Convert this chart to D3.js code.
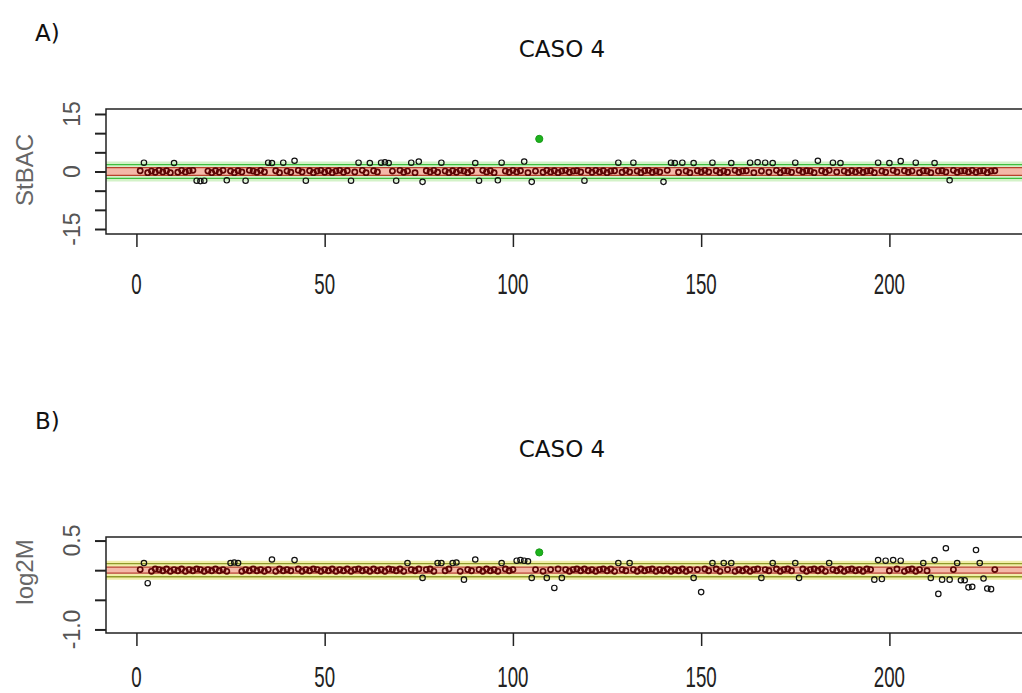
<!DOCTYPE html>
<html><head><meta charset="utf-8">
<script src="https://cdn.jsdelivr.net/npm/d3@7"></script>
<style>body{margin:0;background:#fff}svg{display:block}</style>
</head><body>
<svg id="c" width="1022" height="693"></svg>
<script>
// ---- data ----
const panelTitles = ["CASO 4", "CASO 4"];
const panelLetters = ["A)", "B)"];
const yLabels = ["StBAC", "log2M"];
const xTicks = [0, 50, 100, 150, 200];
const yTicksA = [-15, -10, -5, 0, 5, 10, 15];
const yTickLabelsA = {"-15": "-15", "0": "0", "15": "15"};
const yTicksB = [-1.0, -0.5, 0, 0.5];
const yTickLabelsB = {"-1": "-1.0", "0.5": "0.5"};
const highlightIndex = 107;
// thresholds: inner (pink band) and outer (green lines)
const thrA = {inner: 1, outer: 1.8};
const thrB = {inner: 0.05, outer: 0.11};

const valuesA = [
 0.2, 2.3,-0.3, 0.1,-0.2, 0.3,-0.1, 0.2,-0.3, 2.2,
-0.2, 0.3,-0.1, 0.2, 0.3,-2.4,-2.5,-2.4, 0.1,-0.3,
 0.2,-0.2, 0.3,-2.3, 0.1,-0.3, 0.2,-0.1,-2.4, 0.3,
 0.1,-0.2, 0.3,-0.1, 2.3, 2.2, 0.2,-0.3, 2.3, 0.1,
-0.2, 2.8, 0.3,-0.1,-2.4, 0.2,-0.3, 0.1, 0.3,-0.2,
 0.2,-0.3, 0.1, 0.3,-0.2, 0.2,-2.4,-0.1, 2.3, 0.3,
-0.3, 2.2, 0.2,-0.1, 2.3, 2.4, 2.2, 0.1,-2.4, 0.3,
-0.2, 0.1, 2.3,-0.3, 2.6,-2.7, 0.2,-0.1, 0.3,-0.2,
 2.3, 0.1,-0.3, 0.2,-0.2, 0.3, 0.1,-0.3, 0.2, 2.2,
-2.4, 0.3,-0.1, 0.2,-0.3,-2.3, 2.3, 0.1,-0.2, 0.3,
-0.1, 0.2, 2.6,-0.3,-2.7, 0.1, 8.5,-0.2, 0.3,-0.1,
 0.2,-0.3, 0.1, 0.3,-0.2, 0.1, 0.2,-0.1,-2.4, 0.3,
-0.2, 0.3,-0.1, 0.2,-0.3, 0.1, 0.2, 2.3,-0.2, 0.3,
-0.1, 2.3, 0.1,-0.3, 0.2, 0.3,-0.2, 0.1,-0.1,-2.7,
 0.3, 2.3, 2.2,-0.2, 2.3, 0.1,-0.3, 2.2, 0.2,-0.1,
 0.3,-0.1, 2.3, 0.2,-0.3, 0.1,-0.2, 2.2, 0.3,-0.2,
 0.1, 0.2, 2.3,-0.3, 2.4, 0.1, 2.3,-0.2, 2.2, 0.3,
-0.3, 0.2, 0.1,-0.2, 2.3, 0.3,-0.1, 0.2, 0.1,-0.3,
 2.8, 0.2,-0.2, 0.3, 2.3,-0.1, 2.2, 0.1,-0.3, 0.2,
-0.1, 0.3,-0.2, 0.1, 0.2,-0.3, 2.3, 0.1,-0.2, 2.2,
 0.3,-0.1, 2.7, 0.2,-0.2, 0.1, 2.3,-0.3, 0.2, 0.1,
-0.3, 2.2, 0.1, 0.2,-0.1,-2.3, 0.3,-0.2, 0.1, 0.2,
-0.1, 0.3,-0.2, 0.1, 0.2,-0.3, 0.1, 0.2
];
const valuesB = [
 0.01, 0.12,-0.22,-0.02, 0.02, 0.01,-0.01, 0.02,-0.02, 0.01,
-0.01, 0.02,-0.02, 0.01,-0.01, 0.02, 0.01,-0.02, 0.01,-0.01,
 0.02,-0.01, 0.01,-0.02, 0.12, 0.13, 0.12,-0.02, 0.01,-0.01,
 0.02,-0.01, 0.01,-0.02, 0.01, 0.18,-0.02, 0.02,-0.01, 0.01,
-0.01, 0.17, 0.02,-0.02, 0.01,-0.01, 0.02, 0.01,-0.02, 0.01,
-0.01, 0.02,-0.02, 0.01,-0.01, 0.02,-0.02, 0.01, 0.02,-0.01,
 0.01,-0.02, 0.02,-0.01, 0.01,-0.02, 0.02, 0.01,-0.01, 0.02,
-0.02, 0.12, 0.01,-0.01, 0.02,-0.13, 0.01, 0.02,-0.02, 0.12,
 0.12,-0.01, 0.02, 0.12, 0.13,-0.02,-0.16, 0.01,-0.01, 0.18,
 0.01,-0.02, 0.02,-0.01, 0.01,-0.02, 0.12, 0.02,-0.01, 0.01,
 0.16, 0.17, 0.16, 0.15,-0.13, 0.01, 0.30,-0.02,-0.13, 0.01,
-0.30, 0.02,-0.13, 0.01,-0.02, 0.01, 0.02,-0.01, 0.02,-0.01,
 0.01,-0.02, 0.01, 0.02,-0.01, 0.02,-0.02, 0.12, 0.01,-0.01,
 0.12, 0.01,-0.02, 0.02,-0.01, 0.01, 0.02,-0.02, 0.01,-0.01,
 0.02,-0.02, 0.01,-0.01, 0.02,-0.02, 0.01,-0.13, 0.01,-0.37,
 0.02,-0.01, 0.12, 0.02,-0.02, 0.12, 0.01, 0.12,-0.02, 0.01,
-0.01, 0.02,-0.02, 0.01, 0.02,-0.13, 0.01,-0.01, 0.12, 0.02,
-0.02, 0.01, 0.02,-0.01, 0.12,-0.13, 0.02,-0.02, 0.01, 0.02,
-0.01, 0.02,-0.02, 0.12, 0.01,-0.01, 0.02,-0.02, 0.01, 0.02,
-0.01, 0.01,-0.02, 0.02, 0.01,-0.16, 0.17,-0.15, 0.16,-0.01,
 0.17, 0.02, 0.16,-0.02, 0.01, 0.02,-0.02, 0.01, 0.12,-0.01,
-0.13, 0.17,-0.40,-0.16, 0.37,-0.16, 0.01, 0.12,-0.17,-0.17,
-0.29,-0.28, 0.34, 0.12,-0.14,-0.31,-0.32, 0.01
];

// ---- drawing ----
const svg = d3.select("#c");
const xDomain = [-8.08, 237.08];

function drawPanel(cfg) {
  const x = d3.scaleLinear().domain(xDomain).range([106, 1029]);
  const y = d3.scaleLinear().domain(cfg.yDomain).range([cfg.bottom, cfg.top]);
  const g = svg.append("g");

  g.append("text").attr("x", 35).attr("y", cfg.letterY)
    .attr("font-family", "DejaVu Sans").attr("font-size", 23).attr("fill", "#111")
    .text(cfg.letter);
  g.append("text").attr("x", 562).attr("y", cfg.titleY).attr("text-anchor", "middle")
    .attr("font-family", "DejaVu Sans").attr("font-size", 23).attr("fill", "#111")
    .text(cfg.title);

  const clipId = "clip" + cfg.id;
  svg.append("clipPath").attr("id", clipId).append("rect")
    .attr("x", 106).attr("y", cfg.top).attr("width", 1029 - 106).attr("height", cfg.bottom - cfg.top);
  const plot = g.append("g").attr("clip-path", `url(#${clipId})`);

  plot.append("rect").attr("x", 106).attr("width", 923)
    .attr("y", y(cfg.thr.inner)).attr("height", y(-cfg.thr.inner) - y(cfg.thr.inner))
    .attr("fill", cfg.bandFill);
  [cfg.thr.outer, -cfg.thr.outer].forEach(v => {
    plot.append("line").attr("x1", 106).attr("x2", 1029).attr("y1", y(v)).attr("y2", y(v))
      .attr("stroke", cfg.glow).attr("stroke-width", 6);
  });
  [cfg.thr.inner, -cfg.thr.inner].forEach(v => {
    plot.append("line").attr("x1", 106).attr("x2", 1029).attr("y1", y(v)).attr("y2", y(v))
      .attr("stroke", "#b8402c").attr("stroke-width", 1.3);
  });

  const pts = cfg.values.map((v, i) => ({i: i + 1, v}));
  plot.selectAll("circle.in").data(pts.filter(d => Math.abs(d.v) < cfg.thr.outer && d.i !== highlightIndex))
    .enter().append("circle")
    .attr("cx", d => x(d.i)).attr("cy", d => y(d.v)).attr("r", 2.6)
    .attr("fill", "none").attr("stroke", "#5c0505").attr("stroke-width", 1.7);
  [cfg.thr.outer, -cfg.thr.outer].forEach(v => {
    plot.append("line").attr("x1", 106).attr("x2", 1029).attr("y1", y(v)).attr("y2", y(v))
      .attr("stroke", cfg.lineCol).attr("stroke-width", 1.4);
  });
  plot.selectAll("circle.out").data(pts.filter(d => Math.abs(d.v) >= cfg.thr.outer && d.i !== highlightIndex))
    .enter().append("circle")
    .attr("cx", d => x(d.i)).attr("cy", d => y(d.v)).attr("r", 2.7)
    .attr("fill", "none").attr("stroke", "#111").attr("stroke-width", 1.2);
  plot.selectAll("circle.hl").data(pts.filter(d => d.i === highlightIndex))
    .enter().append("circle")
    .attr("cx", d => x(d.i)).attr("cy", d => y(d.v)).attr("r", 3.6)
    .attr("fill", "#1db31d").attr("stroke", "#1a9a1a").attr("stroke-width", 1);

  g.append("rect").attr("x", 106).attr("y", cfg.top).attr("width", 1029 - 106)
    .attr("height", cfg.bottom - cfg.top).attr("fill", "none")
    .attr("stroke", "#222").attr("stroke-width", 1.5);

  const xa = g.append("g").attr("transform", `translate(0,${cfg.bottom})`)
    .call(d3.axisBottom(x).tickValues(xTicks).tickSize(13).tickFormat(""));
  xa.select(".domain").remove();
  xa.selectAll("line").attr("stroke", "#222").attr("stroke-width", 1.5);
  xTicks.forEach(t => {
    g.append("text").attr("transform", `translate(${x(t)},${cfg.xLabelY}) scale(0.645,1)`)
      .attr("text-anchor", "middle").attr("font-family", "Liberation Sans")
      .attr("font-size", 29).attr("fill", "#222").text(t);
  });

  const ya = g.append("g").attr("transform", "translate(106,0)")
    .call(d3.axisLeft(y).tickValues(cfg.yTicks).tickSize(11).tickFormat(""));
  ya.select(".domain").remove();
  ya.selectAll("line").attr("stroke", "#222").attr("stroke-width", 2);
  cfg.yTicks.forEach(t => {
    const lab = cfg.yTickLabels[String(t)];
    if (!lab) return;
    g.append("text").attr("transform", `translate(80,${y(t)}) rotate(-90)`)
      .attr("text-anchor", "middle").attr("font-family", "Liberation Sans")
      .attr("font-size", 23).attr("fill", "#555").text(lab);
  });
  g.append("text").attr("transform", `translate(33,${cfg.yLabelCenter}) rotate(-90)`)
    .attr("text-anchor", "middle").attr("font-family", "Liberation Sans")
    .attr("font-size", 24).attr("fill", "#666").text(cfg.yLabel);
}

drawPanel({id: "A", letter: panelLetters[0], title: panelTitles[0], letterY: 41, titleY: 57,
  top: 109, bottom: 234, yDomain: [-16.3, 16.3], yTicks: yTicksA, yTickLabels: yTickLabelsA,
  values: valuesA, thr: thrA, bandFill: "#f4b8a8", glow: "#d3f2c8", lineCol: "#3fbf3f",
  xLabelY: 294, yLabel: yLabels[0], yLabelCenter: 170});
drawPanel({id: "B", letter: panelLetters[1], title: panelTitles[1], letterY: 429, titleY: 457,
  top: 537, bottom: 633, yDomain: [-1.06, 0.56], yTicks: yTicksB, yTickLabels: yTickLabelsB,
  values: valuesB, thr: thrB, bandFill: "#f4b8a8", glow: "#f1eea8", lineCol: "#8f9a2a",
  xLabelY: 687, yLabel: yLabels[1], yLabelCenter: 572});
</script>
</body></html>
